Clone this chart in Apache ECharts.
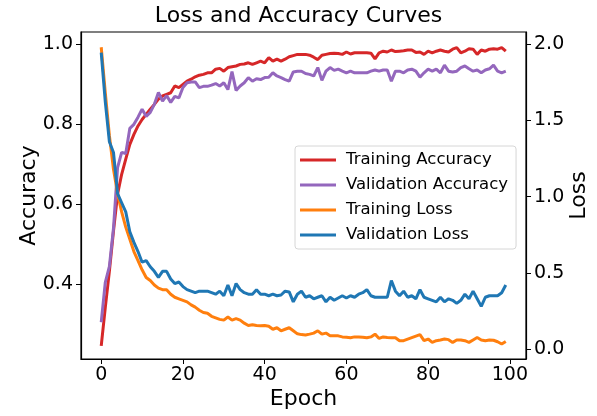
<!DOCTYPE html>
<html>
<head>
<meta charset="utf-8">
<script src="https://cdn.jsdelivr.net/npm/echarts@6.0.0/dist/echarts.min.js"></script>
<style>
  html, body { margin: 0; padding: 0; background: #fff; }
  #container { width: 597px; height: 416px; }
</style>
</head>
<body>
<div id="container"></div>
<script>
// epochs 0..99
let epochs = Array.from({ length: 100 }, (_, i) => i);

let trainAcc = [
  0.246, 0.342, 0.433, 0.533, 0.625, 0.675, 0.713, 0.750, 0.775, 0.796,
  0.812, 0.825, 0.838, 0.850, 0.863, 0.871, 0.875, 0.879, 0.896, 0.892,
  0.900, 0.908, 0.913, 0.919, 0.923, 0.925, 0.929, 0.929, 0.938, 0.940,
  0.933, 0.942, 0.944, 0.946, 0.950, 0.951, 0.954, 0.950, 0.954, 0.958,
  0.954, 0.967, 0.958, 0.963, 0.958, 0.963, 0.969, 0.972, 0.975, 0.975,
  0.975, 0.973, 0.968, 0.962, 0.973, 0.975, 0.977, 0.978, 0.977, 0.975,
  0.981, 0.976, 0.979, 0.979, 0.979, 0.979, 0.978, 0.964, 0.979, 0.983,
  0.981, 0.986, 0.982, 0.983, 0.984, 0.986, 0.986, 0.980, 0.981, 0.975,
  0.983, 0.979, 0.983, 0.986, 0.983, 0.981, 0.988, 0.992, 0.979, 0.983,
  0.989, 0.988, 0.975, 0.986, 0.983, 0.988, 0.989, 0.988, 0.992, 0.983
];

let valAcc = [
  0.305, 0.405, 0.445, 0.540, 0.692, 0.730, 0.727, 0.790, 0.800, 0.818,
  0.838, 0.820, 0.830, 0.850, 0.880, 0.858, 0.872, 0.855, 0.870, 0.866,
  0.892, 0.904, 0.906, 0.906, 0.892, 0.895, 0.895, 0.898, 0.902, 0.896,
  0.904, 0.887, 0.932, 0.885, 0.896, 0.904, 0.917, 0.908, 0.914, 0.912,
  0.917, 0.918, 0.929, 0.921, 0.917, 0.912, 0.908, 0.931, 0.933, 0.933,
  0.927, 0.925, 0.921, 0.942, 0.910, 0.933, 0.942, 0.935, 0.938, 0.933,
  0.929, 0.933, 0.929, 0.929, 0.929, 0.929, 0.933, 0.936, 0.933, 0.936,
  0.936, 0.908, 0.933, 0.933, 0.929, 0.936, 0.938, 0.933, 0.918, 0.929,
  0.938, 0.933, 0.938, 0.929, 0.948, 0.933, 0.931, 0.933, 0.942, 0.946,
  0.939, 0.933, 0.936, 0.929, 0.936, 0.939, 0.948, 0.933, 0.929, 0.933
];

let trainLoss = [
  1.98, 1.68, 1.40, 1.18, 1.02, 0.90, 0.80, 0.72, 0.64, 0.58,
  0.52, 0.47, 0.45, 0.42, 0.40, 0.39, 0.39, 0.36, 0.34, 0.33,
  0.32, 0.31, 0.29, 0.275, 0.255, 0.24, 0.235, 0.215, 0.205, 0.195,
  0.19, 0.21, 0.19, 0.20, 0.19, 0.17, 0.155, 0.16, 0.155, 0.153,
  0.155, 0.15, 0.13, 0.14, 0.12, 0.13, 0.14, 0.12, 0.10, 0.095,
  0.092, 0.098, 0.105, 0.12, 0.098, 0.105, 0.087, 0.087, 0.087, 0.08,
  0.078, 0.074, 0.08, 0.08, 0.078, 0.074, 0.08, 0.098, 0.07, 0.08,
  0.076, 0.074, 0.074, 0.055, 0.055, 0.065, 0.075, 0.085, 0.095, 0.055,
  0.066, 0.044, 0.055, 0.06, 0.066, 0.062, 0.044, 0.06, 0.06, 0.055,
  0.044, 0.06, 0.076, 0.06, 0.055, 0.06, 0.058, 0.048, 0.033, 0.05
];

let valLoss = [
  1.945, 1.62, 1.36, 1.29, 1.02, 0.96, 0.90, 0.77, 0.70, 0.64,
  0.57, 0.58, 0.54, 0.51, 0.47, 0.51, 0.51, 0.46, 0.43, 0.44,
  0.41, 0.39, 0.38, 0.37, 0.38, 0.38, 0.38, 0.37, 0.36, 0.38,
  0.35, 0.42, 0.35, 0.43, 0.39, 0.37, 0.36, 0.36, 0.39, 0.36,
  0.36, 0.35, 0.36, 0.35, 0.355, 0.38, 0.375, 0.31, 0.36, 0.38,
  0.34, 0.35, 0.33, 0.34, 0.35, 0.31, 0.34, 0.32, 0.335, 0.35,
  0.335, 0.35, 0.34, 0.36, 0.37, 0.39, 0.35, 0.34, 0.34, 0.34,
  0.34, 0.45, 0.38, 0.35, 0.38, 0.34, 0.35, 0.33, 0.39, 0.34,
  0.33, 0.32, 0.31, 0.34, 0.31, 0.33, 0.32, 0.30, 0.32, 0.36,
  0.33, 0.38, 0.33, 0.28, 0.34, 0.35, 0.35, 0.35, 0.37, 0.42
];

let xTicks = [0, 20, 40, 60, 80, 100];
let accTicks = [0.4, 0.6, 0.8, 1.0];
let lossTicks = [0, 0.5, 1.0, 1.5, 2.0];

const font = 'DejaVu Sans';
const pairs = (arr) => arr.map((v, i) => [epochs[i], v]);

var myChart = echarts.init(document.getElementById('container'));

let option = {
  animation: false,
  title: {
    text: 'Loss and Accuracy Curves',
    left: 'center',
    top: 5,
    padding: [0, 0, 0, 10],
    textStyle: { fontFamily: font, fontSize: 22, fontWeight: 'normal', color: '#000' },
  },
  grid: {
    left: 81,
    right: 71,
    top: 32,
    bottom: 57,
    outerBoundsMode: 'none',
    show: true,
    borderColor: '#000',
    borderWidth: 1.2,
  },
  legend: {
    orient: 'vertical',
    left: 295,
    top: 146,
    icon: 'rect',
    itemWidth: 36,
    itemHeight: 3,
    itemGap: 5,
    padding: [4, 8, 4, 5],
    borderColor: '#d6d6d6',
    borderWidth: 1,
    borderRadius: 3,
    backgroundColor: 'rgba(255,255,255,0.85)',
    textStyle: { fontFamily: font, fontSize: 16.5, color: '#000', lineHeight: 20, padding: [0, 0, 0, 5] },
    data: ['Training Accuracy', 'Validation Accuracy', 'Training Loss', 'Validation Loss'],
  },
  xAxis: {
    type: 'value',
    min: -4.95,
    max: 103.95,
    name: 'Epoch',
    nameLocation: 'middle',
    nameGap: 29,
    nameMoveOverlap: false,
    nameTextStyle: { fontFamily: font, fontSize: 22, color: '#000' },
    axisLine: { onZero: false, lineStyle: { color: '#000', width: 1.2 } },
    axisTick: { customValues: xTicks, length: 5, lineStyle: { color: '#000' } },
    axisLabel: { customValues: xTicks, fontFamily: font, fontSize: 19, color: '#000', margin: 7 },
    splitLine: { show: false },
  },
  yAxis: [
    {
      type: 'value',
      position: 'left',
      min: 0.213,
      max: 1.031,
      name: 'Accuracy',
      nameLocation: 'middle',
      nameGap: 41,
      nameMoveOverlap: false,
      nameTextStyle: { fontFamily: font, fontSize: 22, color: '#000' },
      axisLine: { show: true, onZero: false, lineStyle: { color: '#000', width: 1.2 } },
      axisTick: { show: true, customValues: accTicks, length: 5, lineStyle: { color: '#000' } },
      axisLabel: {
        customValues: accTicks,
        fontFamily: font, fontSize: 19, color: '#000', margin: 8,
        formatter: (v) => v.toFixed(1),
      },
      splitLine: { show: false },
    },
    {
      type: 'value',
      position: 'right',
      min: -0.065,
      max: 2.08,
      name: 'Loss',
      nameLocation: 'middle',
      nameGap: 42,
      nameRotate: 90,
      nameMoveOverlap: false,
      nameTextStyle: { fontFamily: font, fontSize: 22, color: '#000' },
      axisLine: { show: true, onZero: false, lineStyle: { color: '#000', width: 1.2 } },
      axisTick: { show: true, customValues: lossTicks, length: 5, lineStyle: { color: '#000' } },
      axisLabel: {
        customValues: lossTicks,
        fontFamily: font, fontSize: 19, color: '#000', margin: 8,
        formatter: (v) => v.toFixed(1),
      },
      splitLine: { show: false },
    },
  ],
  series: [
    {
      name: 'Training Accuracy',
      type: 'line',
      yAxisIndex: 0,
      symbol: 'none',
      data: pairs(trainAcc),
      itemStyle: { color: '#d62728' },
      lineStyle: { color: '#d62728', width: 3 },
    },
    {
      name: 'Validation Accuracy',
      type: 'line',
      yAxisIndex: 0,
      symbol: 'none',
      data: pairs(valAcc),
      itemStyle: { color: '#9467bd' },
      lineStyle: { color: '#9467bd', width: 3 },
    },
    {
      name: 'Training Loss',
      type: 'line',
      yAxisIndex: 1,
      symbol: 'none',
      data: pairs(trainLoss),
      itemStyle: { color: '#ff7f0e' },
      lineStyle: { color: '#ff7f0e', width: 3 },
    },
    {
      name: 'Validation Loss',
      type: 'line',
      yAxisIndex: 1,
      symbol: 'none',
      data: pairs(valLoss),
      itemStyle: { color: '#1f77b4' },
      lineStyle: { color: '#1f77b4', width: 3 },
    },
  ],
};

myChart.setOption(option);
</script>
</body>
</html>
